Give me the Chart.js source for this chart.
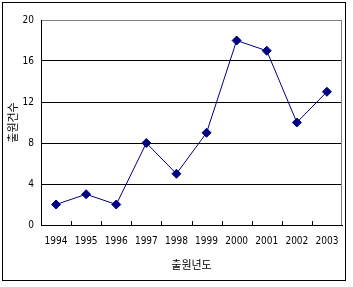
<!DOCTYPE html>
<html>
<head>
<meta charset="utf-8">
<script src="https://cdn.jsdelivr.net/npm/chart.js@4/dist/chart.umd.min.js"></script>
<style>
html,body{margin:0;padding:0;background:#fff;}
#wrap{width:353px;height:287px;position:relative;}
</style>
</head>
<body>
<div id="wrap"><canvas id="c" width="353" height="287"></canvas></div>
<script>
const years = ['1994','1995','1996','1997','1998','1999','2000','2001','2002','2003'];
const counts = [2, 3, 2, 8, 5, 9, 18, 17, 10, 13];
const yTicks = [0, 4, 8, 12, 16, 20];
const xTitle = '출원년도';
const yTitle = '출원건수';

const tickFont = {family: '"Liberation Sans Narrow", "DejaVu Sans Condensed", "Roboto Condensed", sans-serif', size: 10};
const titleFont = {family: '"Noto Sans CJK KR", sans-serif', size: 11};

const framePlugin = {
  id: 'frame',
  beforeDraw(chart) {
    const ctx = chart.ctx;
    ctx.save();
    ctx.fillStyle = '#fff';
    ctx.fillRect(0, 0, chart.width, chart.height);
    ctx.strokeStyle = '#000';
    ctx.lineWidth = 1;
    ctx.strokeRect(2.5, 2.5, 343, 278);
    ctx.restore();
  },
  beforeDatasetsDraw(chart) {
    const ctx = chart.ctx;
    const a = chart.chartArea;
    const xs = chart.scales.x;
    ctx.save();
    ctx.strokeStyle = '#808080';
    ctx.lineWidth = 1;
    ctx.beginPath();
    ctx.moveTo(Math.round(a.right) - 0.5, a.top);
    ctx.lineTo(Math.round(a.right) - 0.5, a.bottom);
    ctx.stroke();
    ctx.strokeStyle = '#000';
    ctx.beginPath();
    for (let i = 1; i < years.length; i++) {
      const px = Math.round((xs.getPixelForValue(i - 1) + xs.getPixelForValue(i)) / 2) + 0.5;
      ctx.moveTo(px, a.bottom);
      ctx.lineTo(px, a.bottom - 4);
    }
    ctx.stroke();
    ctx.restore();
  }
};

new Chart(document.getElementById('c'), {
  type: 'line',
  data: {
    labels: years,
    datasets: [{
      data: counts,
      borderColor: '#000080',
      backgroundColor: '#000080',
      borderWidth: 1,
      pointStyle: 'rectRot',
      pointRadius: 4.5,
      pointBorderWidth: 1,
      tension: 0,
      fill: false
    }]
  },
  options: {
    responsive: false,
    animation: false,
    devicePixelRatio: 1,
    layout: {padding: {top: 20, right: 11, left: 0, bottom: 0}},
    plugins: {legend: {display: false}, tooltip: {enabled: false}},
    scales: {
      x: {
        offset: true,
        grid: {display: false, drawTicks: false},
        border: {display: true, color: '#000', width: 1},
        ticks: {font: tickFont, color: '#000', padding: 10, maxRotation: 0, autoSkip: false},
        title: {display: true, text: xTitle, font: titleFont, color: '#000', padding: {top: 10, bottom: 16}},
        afterFit(s) { s.height = 62; }
      },
      y: {
        min: 0, max: 20,
        afterBuildTicks(s) { s.ticks = yTicks.map(v => ({value: v})); },
        grid: {
          color: c => (c.tick && c.tick.value === 20) ? '#808080' : '#000',
          drawTicks: false, tickLength: 0
        },
        border: {display: true, color: '#000', width: 1},
        ticks: {font: tickFont, color: '#000', padding: 7},
        title: {display: true, text: yTitle, font: titleFont, color: '#000', padding: {top: 6, bottom: 0}},
        afterFit(s) { s.width = 41; }
      }
    }
  },
  plugins: [framePlugin]
});
</script>
</body>
</html>
